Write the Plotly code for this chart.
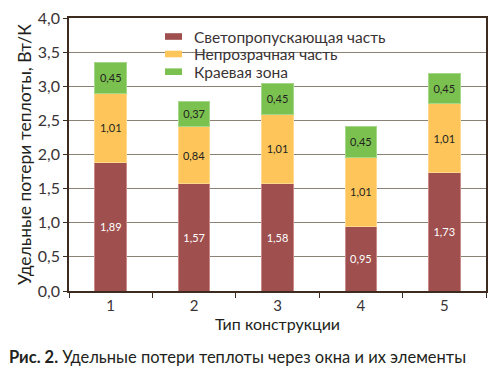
import plotly.graph_objects as go

categories = ["1", "2", "3", "4", "5"]
light_part = [1.89, 1.57, 1.58, 0.95, 1.73]
opaque_part = [1.01, 0.84, 1.01, 1.01, 1.01]
edge_zone = [0.45, 0.37, 0.45, 0.45, 0.45]
series_names = ["Светопропускающая часть", "Непрозрачная часть", "Краевая зона"]
y_ticks = [0, 0.5, 1.0, 1.5, 2.0, 2.5, 3.0, 3.5, 4.0]
y_tick_labels = ["0,0", "0,5", "1,0", "1,5", "2,0", "2,5", "3,0", "3,5", "4,0"]

FONT = "Lato"
TXT = "#231f20"

def fmt(v):
    return f"{v:.2f}".replace(".", ",")

colors = ["#9e4f4e", "#fec65a", "#7bc14f"]
edges = ["#c98a88", "#ffd98e", "#a6d88a"]
text_colors = ["white", TXT, TXT]

fig = go.Figure()
for name, vals, c, e, tc in zip(series_names, [light_part, opaque_part, edge_zone], colors, edges, text_colors):
    fig.add_trace(go.Bar(
        x=categories, y=vals, name=name,
        marker=dict(color=c, line=dict(color=e, width=1)),
        text=[fmt(v) for v in vals], textposition="inside",
        insidetextanchor="middle", textangle=0,
        textfont=dict(family=FONT, size=11, color=tc),
        cliponaxis=False, showlegend=False,
    ))

# custom legend (compact line spacing, as in the original)
fig.add_shape(type="rect", xref="paper", yref="paper",
              x0=0.2134, x1=0.6906, y0=0.7729, y1=0.9707,
              fillcolor="white", line=dict(width=0), layer="between")
row_y = [0.9322, 0.8681, 0.8033]
for name, c, ry in zip(series_names, colors, row_y):
    fig.add_shape(type="rect", xref="paper", yref="paper",
                  x0=0.2302, x1=0.2710, y0=ry - 0.0121, y1=ry + 0.0121,
                  fillcolor=c, line=dict(width=0), layer="above")
    fig.add_annotation(text=name, xref="paper", yref="paper", x=0.2950, y=ry,
                       xanchor="left", yanchor="middle", showarrow=False,
                       font=dict(family=FONT, size=15.5, color="#3a3335"))

fig.add_annotation(
    text="<b>Рис. 2.</b> Удельные потери теплоты через окна и их элементы",
    xref="paper", yref="paper", x=-0.1487, y=-0.242,
    xanchor="left", yanchor="middle", showarrow=False,
    font=dict(family=FONT, size=16.5, color=TXT),
)

# the page body has an 8px default margin, so the plot area is offset to compensate
fig.update_layout(
    barmode="stack",
    bargap=0.62,
    width=500, height=374,
    margin=dict(l=61, r=22, t=10, b=91, autoexpand=False),
    paper_bgcolor="white", plot_bgcolor="white",
    font=dict(family=FONT, color=TXT),
    showlegend=False,
    xaxis=dict(
        title=dict(text="Тип конструкции", font=dict(family=FONT, size=16, color=TXT), standoff=4),
        showline=True, linecolor="#3d2b1f", linewidth=1.5, mirror=True,
        ticks="outside", tickson="boundaries", ticklen=5, tickcolor="#3d2b1f",
        tickfont=dict(family=FONT, size=15, color="#3a3335"),
        showgrid=False, automargin=False,
    ),
    yaxis=dict(
        title=dict(text="Удельные потери теплоты, Вт/К", font=dict(family=FONT, size=17.5, color=TXT), standoff=2),
        range=[0, 4.0], tickvals=y_ticks, ticktext=y_tick_labels,
        ticklabeloverflow="allow",
        showline=True, linecolor="#3d2b1f", linewidth=1.5, mirror=True,
        ticks="outside", ticklen=4, tickcolor="#3d2b1f",
        tickfont=dict(family=FONT, size=16, color="#3a3335"),
        showgrid=True, gridcolor="#8a8275", gridwidth=1,
        zeroline=False, automargin=False,
    ),
)

fig.write_html("out.html")
